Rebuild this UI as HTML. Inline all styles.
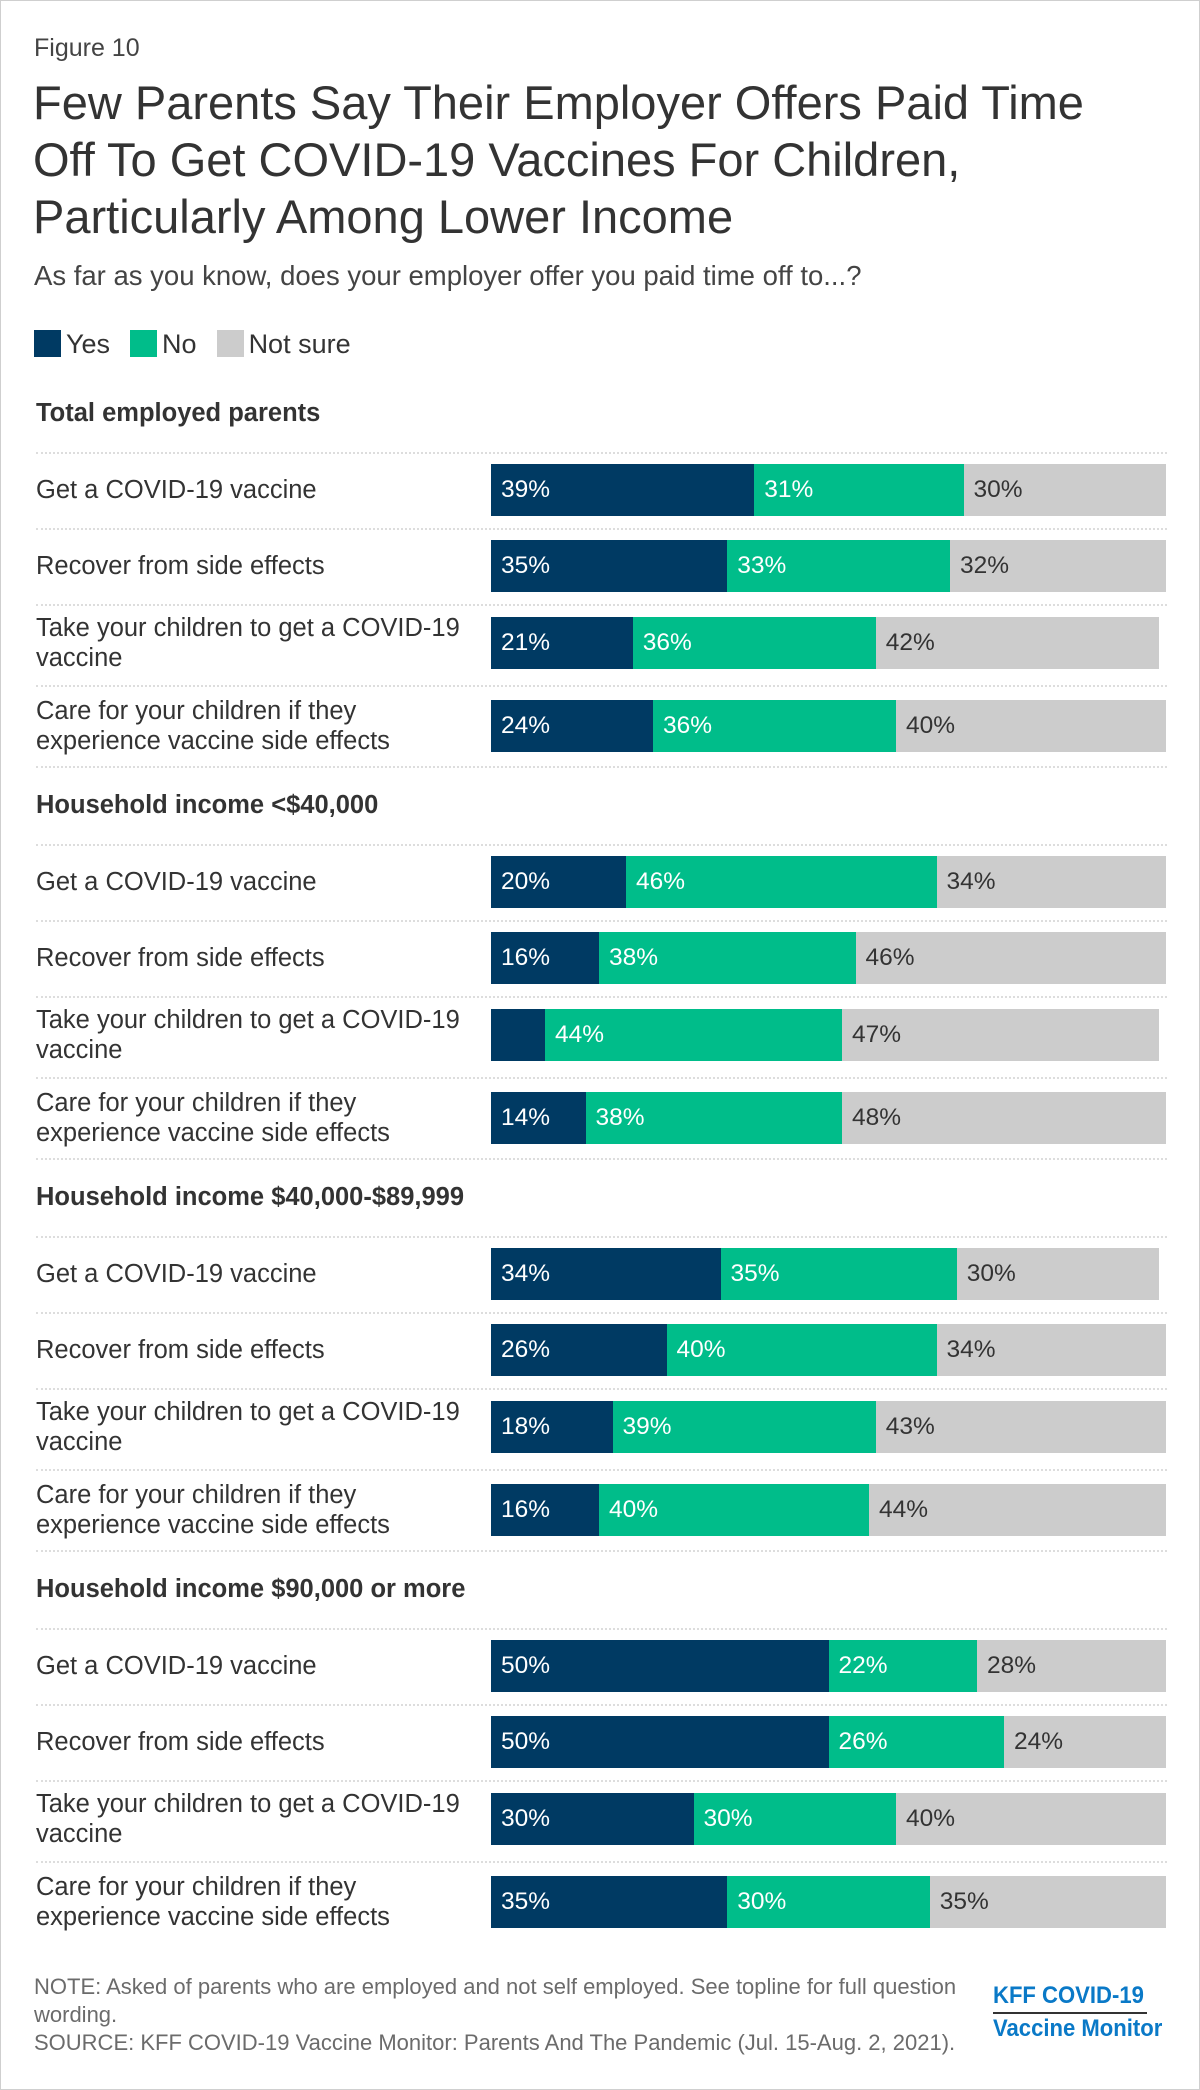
<!DOCTYPE html>
<html><head><meta charset="utf-8">
<style>
body{margin:0;background:#fff;}
#page{position:relative;width:1198px;height:2088px;border:1px solid #cfcfcf;font-family:"Liberation Sans",Arial,sans-serif;color:#333;overflow:hidden;}
.abs{position:absolute;white-space:nowrap;}
.row-label{font-size:25.5px;line-height:30px;color:#333;}
.val{font-size:24.5px;line-height:52px;}
.dots{position:absolute;left:35px;width:1131px;height:0;border-top:2px dotted #ddd;}
</style></head>
<body>
<div id="page">
<div class="abs" style="left:33px;top:33px;font-size:25px;color:#444">Figure 10</div>
<div class="abs" style="left:32px;top:73px;font-size:47px;line-height:57px;color:#333">Few Parents Say Their Employer Offers Paid Time<br>Off To Get COVID-19 Vaccines For Children,<br>Particularly Among Lower Income</div>
<div class="abs" style="left:33px;top:259px;font-size:27.5px;color:#444">As far as you know, does your employer offer you paid time off to...?</div>
<div class="abs" style="left:33px;top:329px;height:28px;font-size:27px;line-height:28px">
 <span><span style="display:inline-block;width:27px;height:27px;background:#003a63;vertical-align:top"></span><span style="margin-left:5px;margin-right:20px">Yes</span></span><span><span style="display:inline-block;width:27px;height:27px;background:#00bd8a;vertical-align:top"></span><span style="margin-left:5px;margin-right:20px">No</span></span><span><span style="display:inline-block;width:27px;height:27px;background:#cccccc;vertical-align:top"></span><span style="margin-left:5px">Not sure</span></span>
</div>
<div id="chart"></div>
<div class="abs" style="left:33px;top:1972px;font-size:22px;line-height:28px;color:#6b6b6b">NOTE: Asked of parents who are employed and not self employed. See topline for full question<br>wording.<br>SOURCE: KFF COVID-19 Vaccine Monitor: Parents And The Pandemic (Jul. 15-Aug. 2, 2021).</div>
<div class="abs" style="left:992px;top:1981px;font-size:24px;font-weight:bold;color:#0a79c7;transform:scaleX(0.92);transform-origin:left">KFF COVID-19</div>
<div class="abs" style="left:992px;top:2011px;width:154px;height:0;border-top:2px solid #333"></div>
<div class="abs" style="left:992px;top:2014px;font-size:24px;font-weight:bold;color:#0a79c7;transform:scaleX(0.92);transform-origin:left">Vaccine Monitor</div>
</div>
<script>
const groups = ["Total employed parents","Household income <$40,000","Household income $40,000-$89,999","Household income $90,000 or more"];
const categories = [["Get a COVID-19 vaccine"],["Recover from side effects"],["Take your children to get a COVID-19","vaccine"],["Care for your children if they","experience vaccine side effects"]];
const yesValues = [[39,35,21,24],[20,16,8,14],[34,26,18,16],[50,50,30,35]];
const noValues = [[31,33,36,36],[46,38,44,38],[35,40,39,40],[22,26,30,30]];
const notSureValues = [[30,32,42,40],[34,46,47,48],[30,34,43,44],[28,24,40,35]];

const chart = document.getElementById('chart');
const X0 = 490, PX = 6.75;
const xScale = v => v * PX;
const groupTop = [413, 805, 1197, 1589];
const barOff = [50, 126, 203, 286];
const lineOff = [38, 114, 190, 271, 352];
const colors = ["#003a63","#00bd8a","#cccccc"];
const textColors = ["#fff","#fff","#333"];
const segNames = ["yes","no","not-sure"];

function mk(cls, style, txt){
  const d = document.createElement('div');
  d.className = cls; d.style.cssText = style;
  if (txt !== undefined) d.innerHTML = txt;
  chart.appendChild(d); return d;
}
groups.forEach((g, gi) => {
  const H = groupTop[gi];
  const h = mk('abs', `left:35px;top:${H-15}px;font-size:25.5px;font-weight:bold;color:#333`, g.replace('<','&lt;'));
  
  
  lineOff.forEach((lo, li) => {
    if (gi === groups.length - 1 && li === lineOff.length - 1) return;
    const l = mk('dots', `top:${H+lo}px`);
    
    
  });
  categories.forEach((c, ri) => {
    const top = H + barOff[ri];
    const lines = c.length;
    const lt = top + 26 - lines * 15;
    const lab = mk('abs row-label', `left:35px;top:${lt}px`, c.join('<br>'));
    
    
    const vals = [yesValues[gi][ri], noValues[gi][ri], notSureValues[gi][ri]];
    let x = X0;
    vals.forEach((v, si) => {
      const w = xScale(v);
      const b = mk('abs', `left:${x}px;top:${top}px;width:${w}px;height:52px;background:${colors[si]}`);
      
      
      if (v >= 10) {
        const t = mk('abs val', `left:${x+10}px;top:${top}px;color:${textColors[si]}`, v + '%');
        
        
      }
      x += w;
    });
  });
});
</script>
</body></html>
